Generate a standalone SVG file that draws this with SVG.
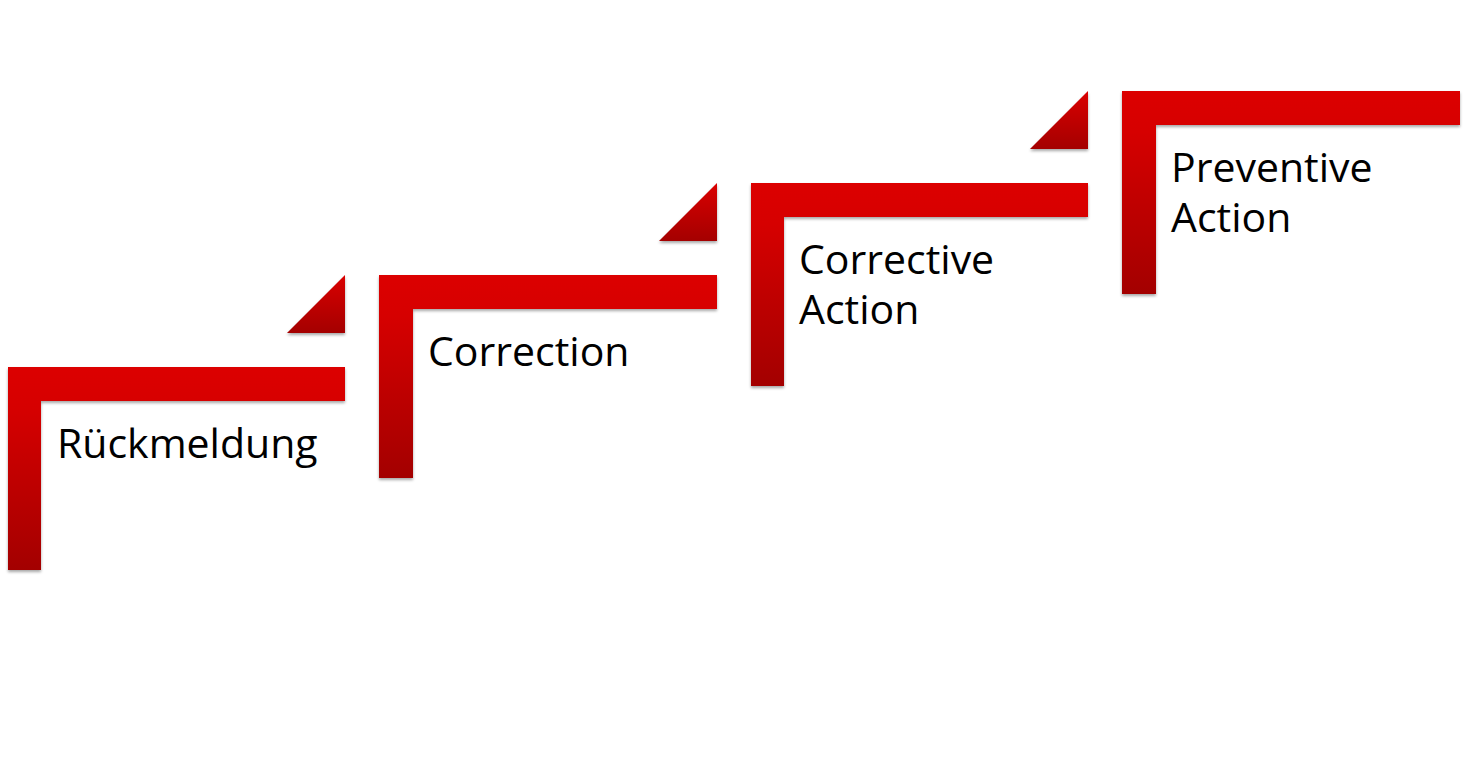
<svg xmlns="http://www.w3.org/2000/svg" width="1467" height="759" viewBox="0 0 1467 759">
  <style>
    .lbl { font-family: "Open Sans", "Liberation Sans", sans-serif; font-size: 41px; fill: #000; }
    .step { fill: url(#gL); filter: url(#sh); }
    .tri { fill: url(#gT); filter: url(#sh); }
  </style>
  <defs>
    <linearGradient id="gL" x1="0" y1="0" x2="0" y2="1">
      <stop offset="0" stop-color="#DC0000"/>
      <stop offset="0.2" stop-color="#D60000"/>
      <stop offset="1" stop-color="#A30000"/>
    </linearGradient>
    <linearGradient id="gT" x1="0" y1="0" x2="0" y2="1">
      <stop offset="0" stop-color="#DA0000"/>
      <stop offset="1" stop-color="#A40000"/>
    </linearGradient>
    <filter id="sh" x="-10%" y="-10%" width="130%" height="130%">
      <feGaussianBlur in="SourceAlpha" stdDeviation="1.5"/>
      <feOffset dx="0" dy="2" result="b"/>
      <feComponentTransfer><feFuncA type="linear" slope="0.35"/></feComponentTransfer>
      <feMerge><feMergeNode/><feMergeNode in="SourceGraphic"/></feMerge>
    </filter>
  </defs>
  <g id="connectors"></g>
  <g id="step1">
    <path class="step" d="M8,367 H345 V401 H41 V570 H8 Z"/>
    <text class="lbl" x="57" y="458">Rückmeldung</text>
  </g>
  <g id="tri1">
    <path class="tri" d="M287,333 L345,275 V333 Z"/>
  </g>
  <g id="step2">
    <path class="step" d="M379,275 H717 V309 H413 V478 H379 Z"/>
    <text class="lbl" x="428" y="366">Correction</text>
  </g>
  <g id="tri2">
    <path class="tri" d="M659,241 L717,183 V241 Z"/>
  </g>
  <g id="step3">
    <path class="step" d="M751,183 H1088 V217 H784 V386 H751 Z"/>
    <text class="lbl" x="799" y="274">Corrective<tspan x="799" dy="50">Action</tspan></text>
  </g>
  <g id="tri3">
    <path class="tri" d="M1030,149 L1088,91 V149 Z"/>
  </g>
  <g id="step4">
    <path class="step" d="M1122,91 H1460 V125 H1156 V294 H1122 Z"/>
    <text class="lbl" x="1171" y="182">Preventive<tspan x="1171" dy="50">Action</tspan></text>
  </g>
</svg>
